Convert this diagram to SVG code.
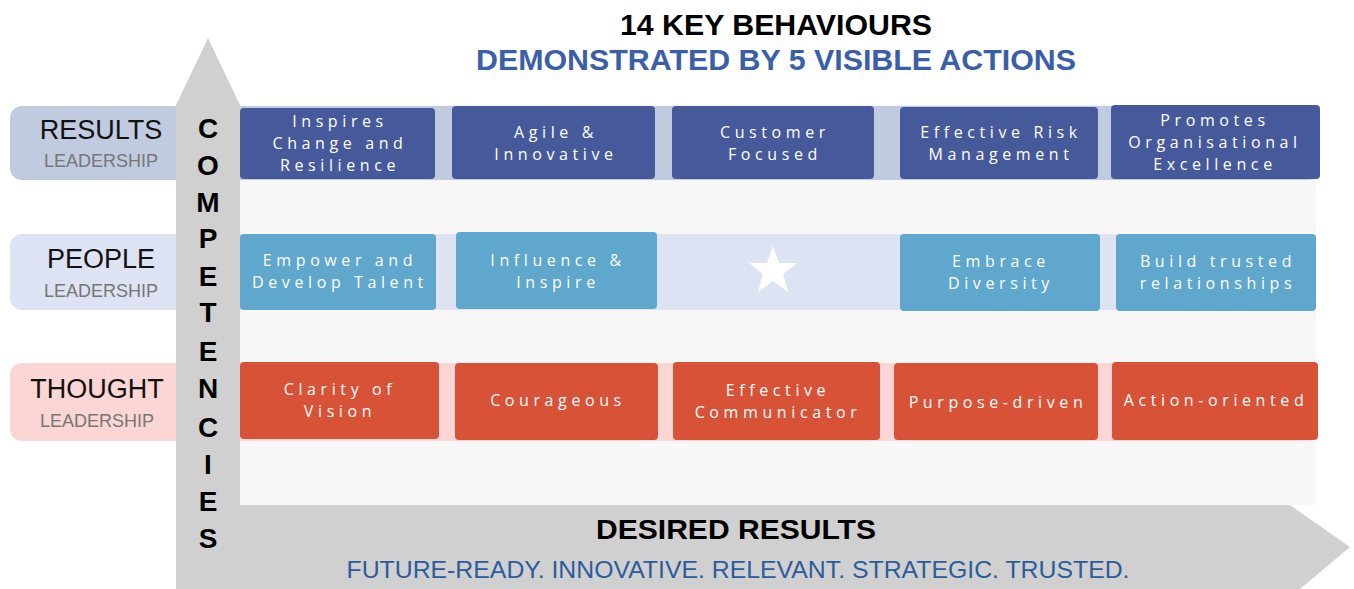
<svg xmlns="http://www.w3.org/2000/svg" width="1354" height="589" viewBox="0 0 1354 589">
<style>
.band-lbl{font-family:"Liberation Sans",Arial,sans-serif;font-size:27px;fill:#111;text-anchor:middle}
.band-sub{font-family:"Liberation Sans",Arial,sans-serif;font-size:18px;fill:#767676;text-anchor:middle}
.comp{font-family:"Liberation Sans",Arial,sans-serif;font-size:28px;font-weight:bold;fill:#000;text-anchor:middle}
.box-t{font-family:"Open Sans","Liberation Sans",sans-serif;font-size:16px;fill:#fff;text-anchor:middle;letter-spacing:4.6px}
.res{fill:#465a9b}
.ppl{fill:#5fa7cd}
.tht{fill:#d85238}
</style>
<rect x="0" y="0" width="1354" height="589" fill="#fff"/>
<!-- panel -->
<rect x="240" y="105" width="1076" height="400" fill="#f7f7f7"/>
<!-- bands -->
<g id="band-results">
<rect x="10" y="106" width="1310" height="74" rx="12" fill="#c0cbe0"/>
<text class="band-lbl" x="101" y="139">RESULTS</text>
<text class="band-sub" x="101" y="167">LEADERSHIP</text>
</g>
<g id="band-people">
<rect x="10" y="234" width="1306" height="76" rx="12" fill="#dde3f2"/>
<text class="band-lbl" x="101" y="268">PEOPLE</text>
<text class="band-sub" x="101" y="297">LEADERSHIP</text>
</g>
<g id="band-thought">
<rect x="10" y="363" width="1308" height="78" rx="12" fill="#fcd6d4"/>
<text class="band-lbl" x="97" y="398">THOUGHT</text>
<text class="band-sub" x="97" y="427">LEADERSHIP</text>
</g>
<!-- axes -->
<g id="axis-results">
<polygon points="176,505 1290,505 1350,547 1300,589 176,589" fill="#d0d0d0"/>
<text x="736" y="539" font-family="Liberation Sans,Arial,sans-serif" font-size="28" font-weight="bold" fill="#000" text-anchor="middle" textLength="280" lengthAdjust="spacingAndGlyphs">DESIRED RESULTS</text>
<text x="738" y="578" font-family="Liberation Sans,Arial,sans-serif" font-size="24" fill="#2b5c9c" text-anchor="middle" textLength="783" lengthAdjust="spacingAndGlyphs">FUTURE-READY.  INNOVATIVE.  RELEVANT.  STRATEGIC.  TRUSTED.</text>
</g>
<g id="axis-competencies">
<polygon points="208,38 240,105 240,589 176,589 176,105" fill="#d0d0d0"/>
<text class="comp" x="208" y="138">C</text>
<text class="comp" x="208" y="175">O</text>
<text class="comp" x="208" y="212">M</text>
<text class="comp" x="208" y="248">P</text>
<text class="comp" x="208" y="286">E</text>
<text class="comp" x="208" y="322">T</text>
<text class="comp" x="208" y="361">E</text>
<text class="comp" x="208" y="398">N</text>
<text class="comp" x="208" y="437">C</text>
<text class="comp" x="208" y="474">I</text>
<text class="comp" x="208" y="511">E</text>
<text class="comp" x="208" y="548">S</text>
</g>
<!-- title -->
<g id="title">
<text x="776" y="35" font-family="Liberation Sans,Arial,sans-serif" font-size="30" font-weight="bold" fill="#000" text-anchor="middle" textLength="312" lengthAdjust="spacingAndGlyphs">14 KEY BEHAVIOURS</text>
<text x="776" y="70" font-family="Liberation Sans,Arial,sans-serif" font-size="29" font-weight="bold" fill="#3b5ea8" text-anchor="middle" textLength="600" lengthAdjust="spacingAndGlyphs">DEMONSTRATED BY 5 VISIBLE ACTIONS</text>
</g>
<!-- results row -->
<g id="r1"><rect class="res" x="240" y="108" width="195" height="71" rx="4"/><text class="box-t" x="340" y="127">Inspires</text><text class="box-t" x="340" y="149">Change and</text><text class="box-t" x="340" y="171">Resilience</text></g>
<g id="r2"><rect class="res" x="452" y="106" width="203" height="73" rx="4"/><text class="box-t" x="556" y="138">Agile &amp;</text><text class="box-t" x="556" y="160">Innovative</text></g>
<g id="r3"><rect class="res" x="672" y="106" width="202" height="73" rx="4"/><text class="box-t" x="775" y="138">Customer</text><text class="box-t" x="775" y="160">Focused</text></g>
<g id="r4"><rect class="res" x="900" y="107" width="198" height="72" rx="4"/><text class="box-t" x="1001" y="138">Effective Risk</text><text class="box-t" x="1001" y="160">Management</text></g>
<g id="r5"><rect class="res" x="1111" y="105" width="209" height="74" rx="4"/><text class="box-t" x="1215" y="126">Promotes</text><text class="box-t" x="1215" y="148">Organisational</text><text class="box-t" x="1215" y="170">Excellence</text></g>
<!-- people row -->
<g id="p1"><rect class="ppl" x="240" y="234" width="196" height="76" rx="4"/><text class="box-t" x="340" y="266">Empower and</text><text class="box-t" x="340" y="288">Develop Talent</text></g>
<g id="p2"><rect class="ppl" x="456" y="232" width="201" height="77" rx="4"/><text class="box-t" x="558" y="266">Influence &amp;</text><text class="box-t" x="558" y="288">Inspire</text></g>
<g id="p3"><polygon points="773,246 779,263 797,263 783,274 788,292 773,281 758,292 763,274 749,263 767,263" fill="#fff"/></g>
<g id="p4"><rect class="ppl" x="900" y="234" width="200" height="77" rx="4"/><text class="box-t" x="1001" y="267">Embrace</text><text class="box-t" x="1001" y="289">Diversity</text></g>
<g id="p5"><rect class="ppl" x="1116" y="234" width="200" height="77" rx="4"/><text class="box-t" x="1218" y="267">Build trusted</text><text class="box-t" x="1218" y="289">relationships</text></g>
<!-- thought row -->
<g id="t1"><rect class="tht" x="240" y="362" width="199" height="77" rx="4"/><text class="box-t" x="340" y="395">Clarity of</text><text class="box-t" x="340" y="417">Vision</text></g>
<g id="t2"><rect class="tht" x="455" y="363" width="203" height="77" rx="4"/><text class="box-t" x="558" y="406">Courageous</text></g>
<g id="t3"><rect class="tht" x="673" y="362" width="207" height="78" rx="4"/><text class="box-t" x="778" y="396">Effective</text><text class="box-t" x="778" y="418">Communicator</text></g>
<g id="t4"><rect class="tht" x="894" y="363" width="204" height="77" rx="4"/><text class="box-t" x="998" y="408">Purpose-driven</text></g>
<g id="t5"><rect class="tht" x="1112" y="362" width="206" height="78" rx="4"/><text class="box-t" x="1216" y="406">Action-oriented</text></g>
<g id="connectors"/>
</svg>
